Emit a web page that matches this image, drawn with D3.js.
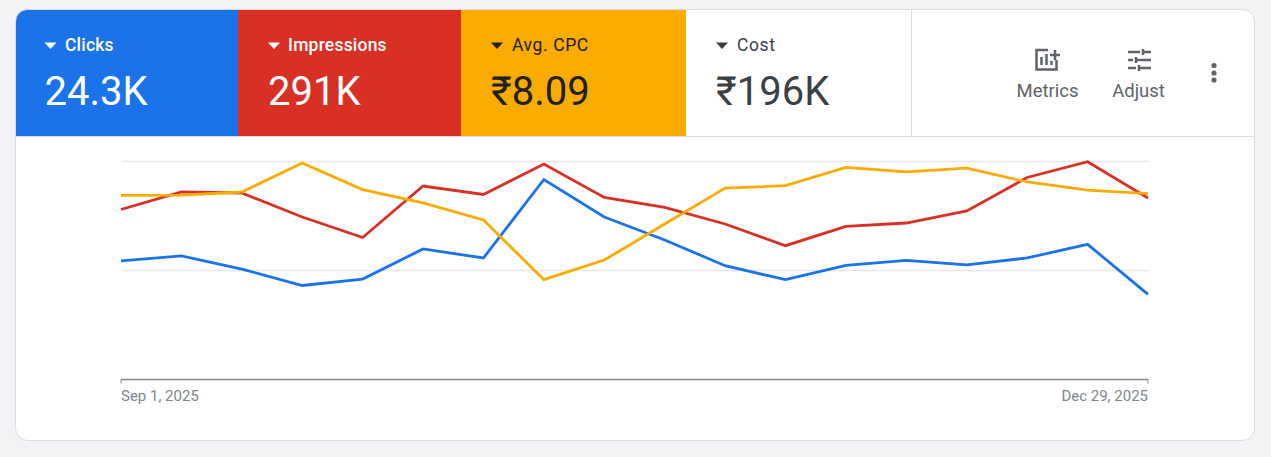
<!DOCTYPE html>
<html>
<head>
<meta charset="utf-8">
<script src="https://cdn.jsdelivr.net/npm/d3@7/dist/d3.min.js"></script>
<style>
  html, body { margin: 0; padding: 0; background: #f1f3f4; }
  svg { display: block; font-family: Roboto, sans-serif; }
</style>
</head>
<body>
<div id="chart"></div>
<script>
// Weekly performance figures, Sep 1 – Dec 29, 2025
const weeks = ["2025-09-01","2025-09-08","2025-09-15","2025-09-22","2025-09-29","2025-10-06",
  "2025-10-13","2025-10-20","2025-10-27","2025-11-03","2025-11-10","2025-11-17","2025-11-24",
  "2025-12-01","2025-12-08","2025-12-15","2025-12-22","2025-12-29"];
const clicks = [1305,1360,1216,1035,1106,1437,1338,2202,1789,1536,1253,1099,1257,1312,1261,1338,1488,938];
const impressions = [15596,17202,17110,14908,13027,17752,16972,19770,16697,15798,14266,12275,14055,14357,15459,18532,19981,16651];
const avgCpc = [8.45,8.46,8.60,9.93,8.71,8.10,7.32,4.58,5.48,7.13,8.78,8.89,9.73,9.52,9.70,9.06,8.69,8.53];

// Scorecard row
const tabNames = ["Clicks","Impressions","Avg. CPC","Cost"];
const tabValues = ["24.3K","291K","₹8.09","₹196K"];
const tabFills = ["#1a73e8","#d93025","#f9ab00","#ffffff"];
const tabInks = ["#ffffff","#ffffff","#202124","#3c4043"];
const tabEdges = [16,238,461,686,911];
const axisLabels = ["Sep 1, 2025","Dec 29, 2025"];

const W = 1271, H = 457;
const parse = d3.utcParse("%Y-%m-%d");
const dates = weeks.map(parse);

const svg = d3.select("#chart").append("svg").attr("width", W).attr("height", H);

// Card with rounded corners; the tab row is clipped to it
svg.append("defs").append("clipPath").attr("id","card")
  .append("rect").attr("x",15.5).attr("y",9.5).attr("width",1239).attr("height",431).attr("rx",12);
svg.append("rect").attr("x",15.5).attr("y",9.5).attr("width",1239).attr("height",431).attr("rx",12)
  .attr("fill","#fff");

const tabs = svg.append("g").attr("clip-path","url(#card)");
tabs.selectAll("rect").data(tabNames).join("rect")
  .attr("x",(d,i)=>tabEdges[i]).attr("y",9)
  .attr("width",(d,i)=>tabEdges[i+1]-tabEdges[i]).attr("height",127)
  .attr("fill",(d,i)=>tabFills[i]);

svg.append("rect").attr("x",15.5).attr("y",9.5).attr("width",1239).attr("height",431).attr("rx",12)
  .attr("fill","none").attr("stroke","#dadce0");
svg.append("line").attr("x1",16).attr("x2",1254).attr("y1",136.5).attr("y2",136.5).attr("stroke","#dadce0");
svg.append("line").attr("x1",911.5).attr("x2",911.5).attr("y1",10).attr("y2",136).attr("stroke","#dadce0");

// Tab captions, dropdown carets and headline values
const tabG = svg.selectAll("g.tab").data(tabNames).join("g").attr("class","tab")
  .attr("transform",(d,i)=>`translate(${tabEdges[i]},0)`);
const offs = [28.5,30,30,30];
tabG.append("path")
  .attr("d",(d,i)=>`M${offs[i]},42.5 h12 l-6,6.5 z`)
  .attr("fill",(d,i)=>tabInks[i]);
tabG.append("text").text(d=>d)
  .attr("x",(d,i)=>[49,50,51,51][i]).attr("y",51)
  .attr("font-size",17.5).attr("font-weight",(d,i)=>i<2?500:400)
  .attr("letter-spacing",(d,i)=>i<2?0.2:0.6)
  .attr("fill",(d,i)=>tabInks[i]);
tabG.append("text").text((d,i)=>tabValues[i])
  .attr("x",(d,i)=>offs[i]).attr("y",104.5)
  .attr("font-size",40).attr("font-weight",400)
  .attr("fill",(d,i)=>tabInks[i]);

// Toolbar icons
const ink = "#5f6368";
const metrics = svg.append("g").attr("fill","none").attr("stroke",ink).attr("stroke-width",2.5);
metrics.append("path").attr("d","M1048,50 H1036.5 V69.5 H1056.5 V60");
metrics.append("path").attr("d","M1055,50 V60 M1050,55 H1060");
metrics.append("path").attr("d","M1041.5,65 V57 M1046.5,65 V54 M1051.5,65 V61");
const adjust = svg.append("g").attr("fill","none").attr("stroke",ink).attr("stroke-width",2.5);
adjust.append("path").attr("d","M1128,52 H1140 M1144,52 H1151 M1143,49 V55");
adjust.append("path").attr("d","M1128,60 H1133 M1137,60 H1151 M1136,57 V63");
adjust.append("path").attr("d","M1128,68 H1136 M1140,68 H1151 M1139,65 V71");
svg.selectAll("circle.dot").data([65.5,73,80]).join("circle").attr("class","dot")
  .attr("cx",1214).attr("cy",d=>d).attr("r",2.6).attr("fill",ink);
svg.selectAll("text.tool").data(["Metrics","Adjust"]).join("text").attr("class","tool")
  .text(d=>d).attr("x",(d,i)=>[1047.5,1138.5][i]).attr("y",97)
  .attr("text-anchor","middle").attr("font-size",18.5).attr("fill",ink);

// Plot: shared time axis, one value scale per metric
const x = d3.scaleUtc().domain(d3.extent(dates)).range([121,1148]);
const plotTop = 161.5, plotBottom = 379.5;
const yClicks = d3.scaleLinear().domain([0,2400]).range([plotBottom,plotTop]);
const yImpr = d3.scaleLinear().domain([0,20000]).range([plotBottom,plotTop]);
const yCpc = d3.scaleLinear().domain([0,10]).range([plotBottom,plotTop]);

svg.append("g").selectAll("line").data([2400,1200]).join("line")
  .attr("x1",121).attr("x2",1148)
  .attr("y1",d=>yClicks(d)).attr("y2",d=>yClicks(d))
  .attr("stroke","#e8e8e8").attr("stroke-width",1.5);

const axis = d3.axisBottom(x).tickValues([dates[0],dates[dates.length-1]])
  .tickFormat((d,i)=>axisLabels[i]).tickSize(4).tickPadding(0).tickSizeOuter(0).offset(0);
const axisG = svg.append("g").attr("transform",`translate(0,${plotBottom})`).call(axis);
axisG.select(".domain").attr("stroke","#80868b").attr("stroke-width",1.5);
axisG.selectAll(".tick line").attr("stroke","#80868b").attr("y2",4).attr("y1",0);
axisG.selectAll(".tick text")
  .attr("font-family","Roboto, sans-serif").attr("font-size",15).attr("fill","#80868b")
  .attr("y",21).attr("dy",0)
  .attr("text-anchor",(d,i)=>i===0?"start":"end");

const series = [
  {values:clicks, y:yClicks, color:"#1a73e8"},
  {values:impressions, y:yImpr, color:"#d93025"},
  {values:avgCpc, y:yCpc, color:"#f9ab00"}
];
svg.append("g").attr("fill","none").attr("stroke-width",2.8).attr("stroke-linejoin","miter")
  .selectAll("path").data(series).join("path")
  .attr("stroke",s=>s.color)
  .attr("d",s=>d3.line().x((d,i)=>x(dates[i])).y(d=>s.y(d))(s.values));
</script>
</body>
</html>
